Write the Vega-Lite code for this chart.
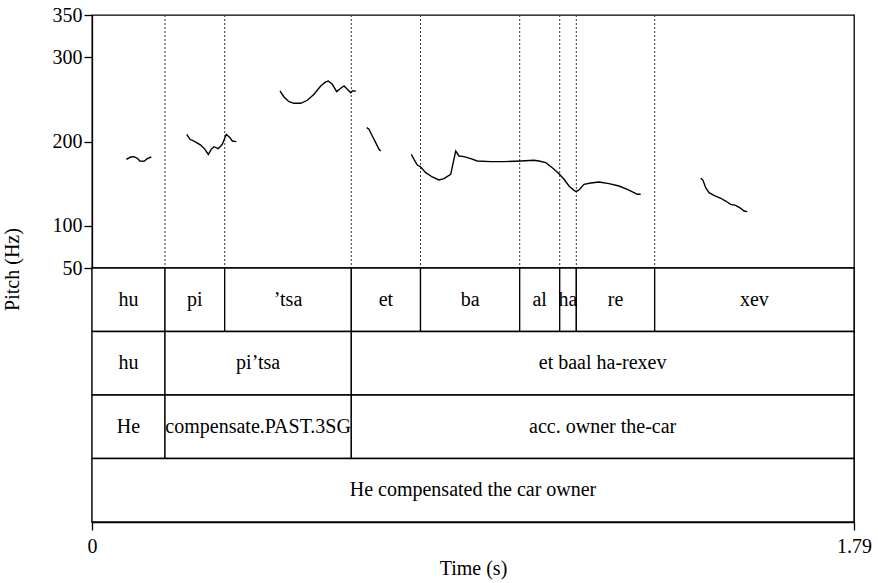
{
  "$schema": "https://vega.github.io/schema/vega-lite/v6.json",
  "background": "white",
  "padding": {"left": 1, "top": 4, "right": 5, "bottom": 2},
  "spacing": 0,
  "bounds": "flush",
  "config": {
    "font": "Times New Roman, Liberation Serif, Tinos, DejaVu Serif, serif",
    "view": {"stroke": "black", "strokeWidth": 1.3},
    "text": {"font": "Times New Roman, Liberation Serif, Tinos, DejaVu Serif, serif"},
    "axis": {
      "labelFont": "Times New Roman, Liberation Serif, Tinos, DejaVu Serif, serif",
      "titleFont": "Times New Roman, Liberation Serif, Tinos, DejaVu Serif, serif",
      "labelColor": "black",
      "titleColor": "black",
      "labelFontSize": 20,
      "titleFontSize": 20,
      "titleFontWeight": "normal",
      "domainColor": "black",
      "tickColor": "black",
      "grid": false,
      "tickSize": 8,
      "domainWidth": 1.3,
      "tickWidth": 1.3
    }
  },
  "datasets": {
    "bounds": [
      {"t": 0.1715}, {"t": 0.3117}, {"t": 0.6091}, {"t": 0.7717},
      {"t": 1.0047}, {"t": 1.0987}, {"t": 1.1377}, {"t": 1.3218}
    ]
  },
  "vconcat": [
    {
      "width": 762,
      "height": 253,
      "layer": [
        {
          "data": {"name": "bounds"},
          "mark": {"type": "rule", "color": "#333", "strokeWidth": 1, "strokeDash": [2, 2]},
          "encoding": {
            "x": {"field": "t", "type": "quantitative", "scale": {"domain": [0, 1.79], "nice": false, "zero": false}, "axis": null}
          }
        },
        {
          "data": {
            "values": [
              {"seg": 1, "t": 0.0806, "hz": 178.9}, {"seg": 1, "t": 0.0909, "hz": 181.6}, {"seg": 1, "t": 0.0987, "hz": 182.0}, {"seg": 1, "t": 0.1064, "hz": 180.1}, {"seg": 1, "t": 0.1127, "hz": 176.9}, {"seg": 1, "t": 0.1222, "hz": 176.5}, {"seg": 1, "t": 0.1299, "hz": 179.6}, {"seg": 1, "t": 0.1393, "hz": 181.6},
              {"seg": 2, "t": 0.2225, "hz": 208.5}, {"seg": 2, "t": 0.2302, "hz": 202.6}, {"seg": 2, "t": 0.2420, "hz": 199.8}, {"seg": 2, "t": 0.2553, "hz": 195.8}, {"seg": 2, "t": 0.2654, "hz": 190.7}, {"seg": 2, "t": 0.2732, "hz": 184.8}, {"seg": 2, "t": 0.2812, "hz": 191.5}, {"seg": 2, "t": 0.2866, "hz": 193.8}, {"seg": 2, "t": 0.2967, "hz": 191.5}, {"seg": 2, "t": 0.3061, "hz": 196.7}, {"seg": 2, "t": 0.3155, "hz": 208.5}, {"seg": 2, "t": 0.3242, "hz": 204.5}, {"seg": 2, "t": 0.3296, "hz": 200.6}, {"seg": 2, "t": 0.3390, "hz": 199.8},
              {"seg": 3, "t": 0.4416, "hz": 259.9}, {"seg": 3, "t": 0.4510, "hz": 252.8}, {"seg": 3, "t": 0.4628, "hz": 247.2}, {"seg": 3, "t": 0.4745, "hz": 245.3}, {"seg": 3, "t": 0.4903, "hz": 245.3}, {"seg": 3, "t": 0.5058, "hz": 248.9}, {"seg": 3, "t": 0.5215, "hz": 256.0}, {"seg": 3, "t": 0.5372, "hz": 265.8}, {"seg": 3, "t": 0.5490, "hz": 270.6}, {"seg": 3, "t": 0.5551, "hz": 271.7}, {"seg": 3, "t": 0.5645, "hz": 267.8}, {"seg": 3, "t": 0.5748, "hz": 259.1}, {"seg": 3, "t": 0.5842, "hz": 263.1}, {"seg": 3, "t": 0.5920, "hz": 265.8}, {"seg": 3, "t": 0.6014, "hz": 261.1}, {"seg": 3, "t": 0.6077, "hz": 257.9}, {"seg": 3, "t": 0.6115, "hz": 259.9}, {"seg": 3, "t": 0.6194, "hz": 259.9},
              {"seg": 4, "t": 0.6453, "hz": 216.4}, {"seg": 4, "t": 0.6507, "hz": 214.5}, {"seg": 4, "t": 0.6584, "hz": 206.5}, {"seg": 4, "t": 0.6664, "hz": 198.6}, {"seg": 4, "t": 0.6742, "hz": 190.8}, {"seg": 4, "t": 0.6782, "hz": 188.7},
              {"seg": 5, "t": 0.7501, "hz": 184.8}, {"seg": 5, "t": 0.7564, "hz": 178.9}, {"seg": 5, "t": 0.7642, "hz": 172.1}, {"seg": 5, "t": 0.7721, "hz": 169.8}, {"seg": 5, "t": 0.7839, "hz": 163.0}, {"seg": 5, "t": 0.7994, "hz": 157.9}, {"seg": 5, "t": 0.8151, "hz": 154.4}, {"seg": 5, "t": 0.8269, "hz": 155.9}, {"seg": 5, "t": 0.8426, "hz": 161.1}, {"seg": 5, "t": 0.8544, "hz": 188.7}, {"seg": 5, "t": 0.8621, "hz": 182.8}, {"seg": 5, "t": 0.8739, "hz": 182.0}, {"seg": 5, "t": 0.8896, "hz": 179.6}, {"seg": 5, "t": 0.9051, "hz": 176.9}, {"seg": 5, "t": 0.9366, "hz": 176.1}, {"seg": 5, "t": 0.9678, "hz": 176.1}, {"seg": 5, "t": 1.0070, "hz": 176.9}, {"seg": 5, "t": 1.0383, "hz": 177.7}, {"seg": 5, "t": 1.0500, "hz": 176.9}, {"seg": 5, "t": 1.0658, "hz": 174.9}, {"seg": 5, "t": 1.0813, "hz": 168.9}, {"seg": 5, "t": 1.0970, "hz": 161.8}, {"seg": 5, "t": 1.1088, "hz": 155.2}, {"seg": 5, "t": 1.1205, "hz": 147.2}, {"seg": 5, "t": 1.1323, "hz": 142.1}, {"seg": 5, "t": 1.1377, "hz": 140.5}, {"seg": 5, "t": 1.1456, "hz": 143.3}, {"seg": 5, "t": 1.1557, "hz": 149.2}, {"seg": 5, "t": 1.1715, "hz": 150.8}, {"seg": 5, "t": 1.1910, "hz": 152.0}, {"seg": 5, "t": 1.2145, "hz": 150.0}, {"seg": 5, "t": 1.2380, "hz": 147.2}, {"seg": 5, "t": 1.2575, "hz": 143.3}, {"seg": 5, "t": 1.2732, "hz": 139.3}, {"seg": 5, "t": 1.2810, "hz": 137.4}, {"seg": 5, "t": 1.2889, "hz": 137.4},
              {"seg": 6, "t": 1.4299, "hz": 156.4}, {"seg": 6, "t": 1.4353, "hz": 154.0}, {"seg": 6, "t": 1.4416, "hz": 145.2}, {"seg": 6, "t": 1.4494, "hz": 139.3}, {"seg": 6, "t": 1.4611, "hz": 136.2}, {"seg": 6, "t": 1.4769, "hz": 132.7}, {"seg": 6, "t": 1.4886, "hz": 129.4}, {"seg": 6, "t": 1.5004, "hz": 125.5}, {"seg": 6, "t": 1.5121, "hz": 124.3}, {"seg": 6, "t": 1.5239, "hz": 120.8}, {"seg": 6, "t": 1.5316, "hz": 117.6}, {"seg": 6, "t": 1.5394, "hz": 116.8}
            ]
          },
          "mark": {"type": "line", "color": "black", "strokeWidth": 1.4, "interpolate": "linear"},
          "encoding": {
            "x": {"field": "t", "type": "quantitative", "scale": {"domain": [0, 1.79], "nice": false, "zero": false}, "axis": null},
            "y": {
              "field": "hz", "type": "quantitative",
              "scale": {"domain": [50, 350], "nice": false, "zero": false},
              "axis": {"values": [50, 100, 200, 300, 350], "title": "Pitch (Hz)", "labelPadding": 2, "titleX": -70, "titleY": 254, "titleAnchor": "middle", "titleAlign": "center", "titleBaseline": "bottom"}
            },
            "detail": {"field": "seg", "type": "nominal"}
          }
        }
      ]
    },
    {
      "width": 762,
      "height": 254,
      "data": {
        "values": [
          {"tier": "1", "start": 0, "end": 0.1715, "label": "hu"},
          {"tier": "1", "start": 0.1715, "end": 0.3117, "label": "pi"},
          {"tier": "1", "start": 0.3117, "end": 0.6091, "label": "’tsa"},
          {"tier": "1", "start": 0.6091, "end": 0.7717, "label": "et"},
          {"tier": "1", "start": 0.7717, "end": 1.0047, "label": "ba"},
          {"tier": "1", "start": 1.0047, "end": 1.0987, "label": "al"},
          {"tier": "1", "start": 1.0987, "end": 1.1377, "label": "ha"},
          {"tier": "1", "start": 1.1377, "end": 1.3218, "label": "re"},
          {"tier": "1", "start": 1.3218, "end": 1.79, "label": "xev"},
          {"tier": "2", "start": 0, "end": 0.1715, "label": "hu"},
          {"tier": "2", "start": 0.1715, "end": 0.6091, "label": "pi’tsa"},
          {"tier": "2", "start": 0.6091, "end": 1.79, "label": "et baal ha-rexev"},
          {"tier": "3", "start": 0, "end": 0.1715, "label": "He"},
          {"tier": "3", "start": 0.1715, "end": 0.6091, "label": "compensate.PAST.3SG"},
          {"tier": "3", "start": 0.6091, "end": 1.79, "label": "acc. owner the-car"},
          {"tier": "4", "start": 0, "end": 1.79, "label": "He compensated the car owner"}
        ]
      },
      "transform": [{"calculate": "(datum.start + datum.end) / 2", "as": "mid"}],
      "layer": [
        {
          "mark": {"type": "rect", "fill": "white", "stroke": "black", "strokeWidth": 1.3},
          "encoding": {
            "x": {"field": "start", "type": "quantitative", "scale": {"domain": [0, 1.79], "nice": false, "zero": false},
              "axis": {"values": [0, 1.79], "labelExpr": "datum.value == 0 ? '0' : format(datum.value, '.2f')", "title": "Time (s)", "labelPadding": 6, "titlePadding": 2, "labelFlush": false}},
            "x2": {"field": "end"},
            "y": {"field": "tier", "type": "ordinal", "scale": {"domain": ["1", "2", "3", "4"], "paddingInner": 0, "paddingOuter": 0}, "axis": null}
          }
        },
        {
          "mark": {"type": "text", "font": "Times New Roman, Liberation Serif, Tinos, DejaVu Serif, serif", "fontSize": 20, "color": "black", "align": "center", "baseline": "middle"},
          "encoding": {
            "x": {"field": "mid", "type": "quantitative"},
            "y": {"field": "tier", "type": "ordinal"},
            "text": {"field": "label"}
          }
        }
      ]
    }
  ]
}
